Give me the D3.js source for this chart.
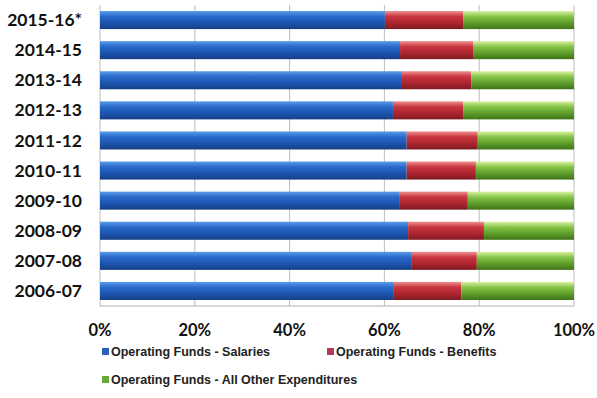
<!DOCTYPE html>
<html><head><meta charset="utf-8">
<script src="https://cdn.jsdelivr.net/npm/d3@7"></script>
<style>body{margin:0;background:#fff}</style>
</head><body>
<svg id="c" width="597" height="398"></svg>
<script>
const categories = ["2015-16*","2014-15","2013-14","2012-13","2011-12","2010-11","2009-10","2008-09","2007-08","2006-07"];
const salaries = [60.1,63.3,63.7,61.8,64.7,64.7,63.1,65.0,65.8,62.0];
const benefits = [16.5,15.4,14.6,14.8,15.0,14.6,14.5,16.0,13.7,14.2];
const other = salaries.map((s,i)=>+(100 - s - benefits[i]).toFixed(1));
const seriesNames = ["Operating Funds - Salaries","Operating Funds - Benefits","Operating Funds - All Other Expenditures"];
const tickValues = [0,20,40,60,80,100];

const svg = d3.select("#c");
const m = {l:100, r:23, t:5, b:92};
const W = 597 - m.l - m.r, H = 398 - m.t - m.b;
const g = svg.append("g").attr("transform",`translate(${m.l},${m.t})`);

const x = d3.scaleLinear().domain([0,100]).range([0,W]);
const y = d3.scaleBand().domain(categories).range([0,H]).paddingInner(0.4).paddingOuter(0.2);

const defs = svg.append("defs");
const grads = [
  ["gb",["#5c9de8","#2a6acb","#1c55b0","#163f85"]],
  ["gr",["#f09090","#c8363f","#ad2530","#7e1a20"]],
  ["gg",["#dcf2a4","#86c54a","#5e9e2a","#3f7418"]]
];
grads.forEach(([id,cs])=>{
  const lg = defs.append("linearGradient").attr("id",id).attr("x1",0).attr("x2",0).attr("y1",0).attr("y2",1);
  [0,0.3,0.65,1].forEach((o,i)=>lg.append("stop").attr("offset",o).attr("stop-color",cs[i]));
});

// grid
g.selectAll(".grid").data(tickValues).enter().append("line")
  .attr("x1",d=>x(d)).attr("x2",d=>x(d)).attr("y1",0).attr("y2",H)
  .attr("stroke","#bdbdbd").attr("stroke-width",1);
g.append("line").attr("x1",0).attr("x2",W).attr("y1",H).attr("y2",H).attr("stroke","#b0b0b0");

const stackData = categories.map((c,i)=>({cat:c, s:salaries[i], b:benefits[i], o:other[i]}));
const stack = d3.stack().keys(["s","b","o"])(stackData);
const fills = ["url(#gb)","url(#gr)","url(#gg)"];
stack.forEach((layer,li)=>{
  g.selectAll(".b"+li).data(layer).enter().append("rect")
    .attr("x",d=>x(d[0])).attr("width",d=>x(d[1])-x(d[0]))
    .attr("y",d=>y(d.data.cat)).attr("height",y.bandwidth())
    .attr("fill",fills[li]);
});

// category labels
g.selectAll(".cl").data(categories).enter().append("text")
  .attr("x",-18).attr("y",d=>y(d)+y.bandwidth()/2).attr("dy","0.35em")
  .attr("text-anchor","end").attr("font-family","Lato, 'Open Sans', sans-serif")
  .attr("font-weight","bold").attr("font-size",17.5).attr("fill","#111").text(d=>d);

// x axis labels
g.selectAll(".xl").data(tickValues).enter().append("text")
  .attr("x",d=>x(d)).attr("y",H+24).attr("dy","0.35em")
  .attr("text-anchor","middle").attr("font-family","Lato, 'Open Sans', sans-serif")
  .attr("font-weight","bold").attr("font-size",16.5).attr("fill","#111").text(d=>d+"%");

// legend
const legColors = ["#2a63b8","#b53a55","#6aa838"];
const legPos = [[102,352],[327,352],[102,380]];
seriesNames.forEach((n,i)=>{
  const [lx,ly] = legPos[i];
  svg.append("rect").attr("x",lx).attr("y",ly-4).attr("width",7).attr("height",7).attr("fill",legColors[i]);
  svg.append("text").attr("x",lx+9).attr("y",ly).attr("dy","0.35em")
    .attr("font-family","'Liberation Sans', Arial, sans-serif").attr("font-weight","bold")
    .attr("font-size",12.5).attr("fill","#222").text(n);
});
</script>
</body></html>
